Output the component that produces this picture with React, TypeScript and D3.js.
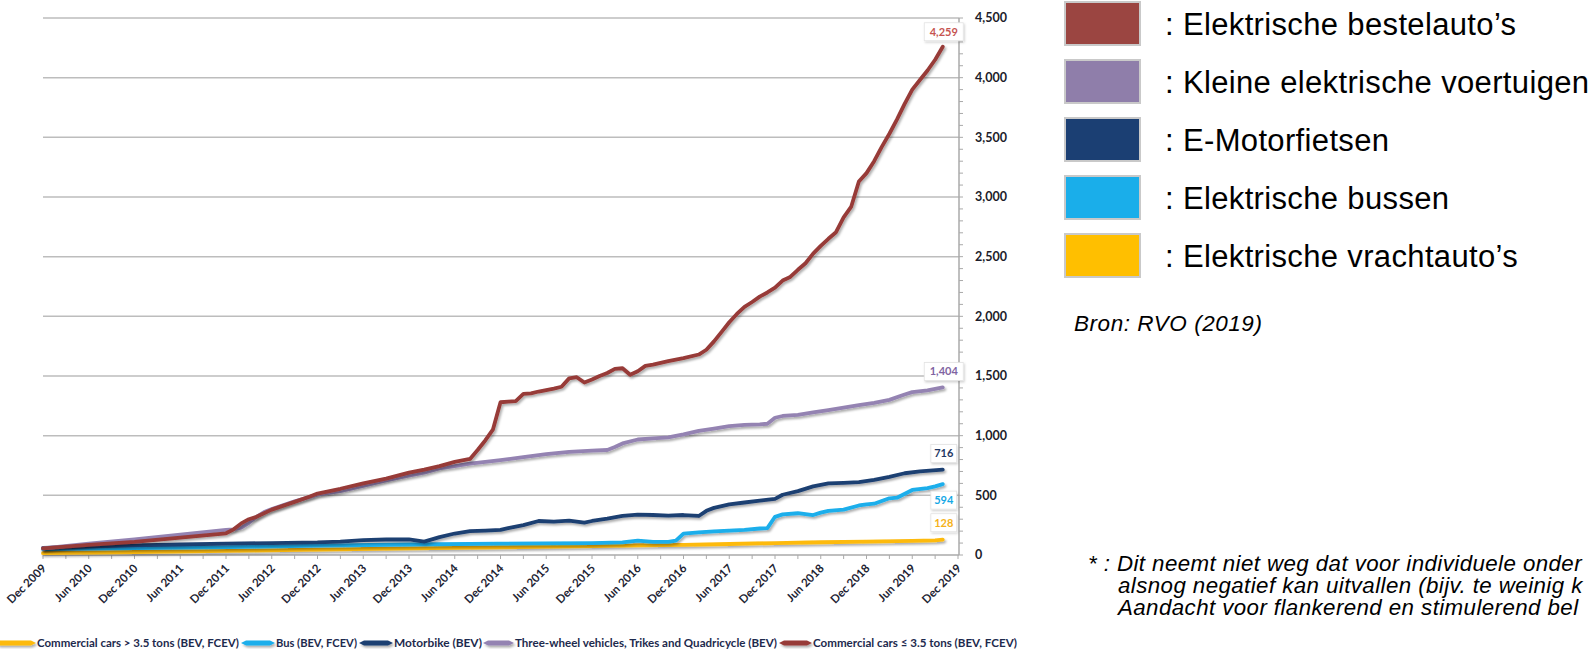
import React from 'react';
import * as d3 from 'd3';

// Monthly fleet counts, read as [YYYY-MM, vehicles]
const commercialHeavy: [string, number][] = [
  ['2009-12', 15], ['2010-12', 25], ['2011-12', 35], ['2012-12', 45], ['2013-12', 55],
  ['2014-12', 65], ['2015-12', 75], ['2016-06', 80], ['2016-12', 85], ['2017-06', 92],
  ['2017-12', 100], ['2018-06', 107], ['2018-12', 112], ['2019-06', 118], ['2019-09', 122],
  ['2019-10', 128],
];

const bus: [string, number][] = [
  ['2009-12', 50], ['2010-12', 58], ['2011-12', 66], ['2012-12', 78], ['2013-12', 88],
  ['2014-12', 95], ['2015-12', 100], ['2016-04', 105], ['2016-06', 120], ['2016-08', 110],
  ['2016-10', 110], ['2016-11', 120], ['2016-12', 180], ['2017-02', 190], ['2017-04', 198],
  ['2017-06', 205], ['2017-08', 210], ['2017-10', 222], ['2017-11', 225], ['2017-12', 320],
  ['2018-01', 340], ['2018-03', 350], ['2018-05', 335], ['2018-06', 355], ['2018-07', 370],
  ['2018-09', 380], ['2018-11', 415], ['2018-12', 425], ['2019-01', 430], ['2019-03', 475],
  ['2019-04', 480], ['2019-06', 545], ['2019-08', 560], ['2019-09', 575], ['2019-10', 594],
];

const motorbike: [string, number][] = [
  ['2009-12', 60], ['2010-06', 70], ['2010-12', 80], ['2011-06', 88], ['2011-12', 96],
  ['2012-06', 100], ['2012-12', 105], ['2013-03', 112], ['2013-06', 125], ['2013-09', 130],
  ['2013-12', 130], ['2014-02', 112], ['2014-04', 150], ['2014-06', 180], ['2014-08', 200],
  ['2014-10', 205], ['2014-12', 210], ['2015-01', 225], ['2015-03', 250], ['2015-05', 285],
  ['2015-07', 280], ['2015-09', 288], ['2015-11', 272], ['2015-12', 285], ['2016-02', 305],
  ['2016-04', 328], ['2016-06', 338], ['2016-08', 335], ['2016-10', 330], ['2016-12', 335],
  ['2017-02', 327], ['2017-03', 370], ['2017-04', 395], ['2017-06', 425], ['2017-08', 440],
  ['2017-10', 455], ['2017-12', 470], ['2018-01', 505], ['2018-03', 535], ['2018-05', 575],
  ['2018-07', 600], ['2018-09', 605], ['2018-11', 610], ['2019-01', 630], ['2019-03', 655],
  ['2019-05', 685], ['2019-07', 700], ['2019-10', 716],
];

const threeWheel: [string, number][] = [
  ['2009-12', 55], ['2010-06', 95], ['2010-12', 130], ['2011-06', 170], ['2011-12', 210],
  ['2012-01', 215], ['2012-02', 230], ['2012-03', 270], ['2012-04', 320], ['2012-05', 360],
  ['2012-06', 385], ['2012-09', 450], ['2012-12', 505], ['2013-03', 535], ['2013-06', 580],
  ['2013-09', 625], ['2013-12', 665], ['2014-02', 690], ['2014-04', 725], ['2014-06', 745],
  ['2014-08', 765], ['2014-10', 780], ['2014-12', 795], ['2015-03', 820], ['2015-06', 845],
  ['2015-09', 865], ['2015-12', 875], ['2016-02', 880], ['2016-03', 905], ['2016-04', 935],
  ['2016-06', 968], ['2016-08', 978], ['2016-10', 985], ['2016-12', 1010], ['2017-02', 1040],
  ['2017-04', 1060], ['2017-06', 1080], ['2017-08', 1090], ['2017-10', 1095], ['2017-11', 1100],
  ['2017-12', 1150], ['2018-01', 1165], ['2018-03', 1175], ['2018-05', 1195], ['2018-07', 1215],
  ['2018-09', 1235], ['2018-11', 1255], ['2019-01', 1275], ['2019-03', 1300], ['2019-05', 1345],
  ['2019-06', 1365], ['2019-08', 1380], ['2019-10', 1404],
];

const commercialLight: [string, number][] = [
  ['2009-12', 55], ['2010-06', 85], ['2010-12', 110], ['2011-06', 145], ['2011-12', 182],
  ['2012-01', 215], ['2012-02', 265], ['2012-03', 300], ['2012-04', 320], ['2012-06', 380],
  ['2012-09', 445], ['2012-11', 490], ['2012-12', 515], ['2013-03', 555], ['2013-06', 600],
  ['2013-09', 640], ['2013-12', 690], ['2014-02', 715], ['2014-04', 745], ['2014-06', 780],
  ['2014-08', 805], ['2014-09', 880], ['2014-10', 960], ['2014-11', 1050], ['2014-12', 1280],
  ['2015-01', 1285], ['2015-02', 1290], ['2015-03', 1350], ['2015-04', 1355], ['2015-05', 1370],
  ['2015-07', 1395], ['2015-08', 1410], ['2015-09', 1480], ['2015-10', 1490], ['2015-11', 1445],
  ['2015-12', 1470], ['2016-01', 1500], ['2016-02', 1525], ['2016-03', 1560], ['2016-04', 1565],
  ['2016-05', 1510], ['2016-06', 1540], ['2016-07', 1585], ['2016-08', 1595], ['2016-10', 1625],
  ['2016-12', 1650], ['2017-02', 1680], ['2017-03', 1720], ['2017-04', 1790], ['2017-05', 1870],
  ['2017-06', 1950], ['2017-07', 2020], ['2017-08', 2080], ['2017-09', 2120], ['2017-10', 2165],
  ['2017-11', 2200], ['2017-12', 2240], ['2018-01', 2300], ['2018-02', 2330], ['2018-03', 2390],
  ['2018-04', 2445], ['2018-05', 2525], ['2018-06', 2590], ['2018-07', 2650], ['2018-08', 2705],
  ['2018-09', 2830], ['2018-10', 2920], ['2018-11', 3130], ['2018-12', 3200], ['2019-01', 3300],
  ['2019-02', 3420], ['2019-03', 3530], ['2019-04', 3650], ['2019-05', 3780], ['2019-06', 3900],
  ['2019-07', 3980], ['2019-08', 4060], ['2019-09', 4150], ['2019-10', 4259],
];

const xTickLabels = [
  'Dec 2009', 'Jun 2010', 'Dec 2010', 'Jun 2011', 'Dec 2011', 'Jun 2012', 'Dec 2012',
  'Jun 2013', 'Dec 2013', 'Jun 2014', 'Dec 2014', 'Jun 2015', 'Dec 2015', 'Jun 2016',
  'Dec 2016', 'Jun 2017', 'Dec 2017', 'Jun 2018', 'Dec 2018', 'Jun 2019', 'Dec 2019',
];

const yTickValues = [0, 500, 1000, 1500, 2000, 2500, 3000, 3500, 4000, 4500];

const seriesNames = [
  'Commercial cars > 3.5 tons (BEV, FCEV)',
  'Bus (BEV, FCEV)',
  'Motorbike (BEV)',
  'Three-wheel vehicles, Trikes and Quadricycle (BEV)',
  'Commercial cars \u2264 3.5 tons (BEV, FCEV)',
];

const dutchLegend = [
  ': Elektrische bestelauto\u2019s',
  ': Kleine elektrische voertuigen',
  ': E-Motorfietsen',
  ': Elektrische bussen',
  ': Elektrische vrachtauto\u2019s',
];

// the slide cuts the footnote off at its right edge
const footnoteLines = [
  '* : Dit neemt niet weg dat voor individuele onder',
  'alsnog negatief kan uitvallen (bijv. te weinig k',
  'Aandacht voor flankerend en stimulerend bel',
];

const sourceText = 'Bron: RVO (2019)';

// months since Dec 2009
const monthIndex = (s: string) => {
  const [yy, mm] = s.split('-').map(Number);
  return (yy - 2009) * 12 + (mm - 12);
};

const series = [
  { data: commercialHeavy, color: '#FDBA0C', labelColor: '#F5B21A', labelDy: -17 },
  { data: bus, color: '#1AAEEB', labelColor: '#14A8E6', labelDy: 16 },
  { data: motorbike, color: '#1D3F72', labelColor: '#1F3864', labelDy: -16 },
  { data: threeWheel, color: '#9483B2', labelColor: '#8064A2', labelDy: -16 },
  { data: commercialLight, color: '#973A37', labelColor: '#C65450', labelDy: -15 },
];

// right-hand legend order: light commercial, small vehicles, motorbikes, buses, trucks
const dutchColors = ['#9B4541', '#8F7EAA', '#1B3F73', '#1AAEEA', '#FFBF00'];

export default function App() {
  const x = d3.scaleLinear().domain([0, 120]).range([43, 958]);
  const y = d3.scaleLinear().domain([0, 4500]).range([555, 18]);
  const axisX = 959;

  const line = d3
    .line<[string, number]>()
    .x((d) => x(monthIndex(d[0])))
    .y((d) => y(d[1]));

  const tickMonths = d3.range(0, 121, 3);
  const minorY = d3.range(0, 4501, 100);

  const legendLayout = [
    { sx0: -6, sx1: 36, tx: 37, tw: 202 },
    { sx0: 241, sx1: 275, tx: 276, tw: 81 },
    { sx0: 359, sx1: 393, tx: 394, tw: 88 },
    { sx0: 483, sx1: 514, tx: 515, tw: 262 },
    { sx0: 779, sx1: 812, tx: 813, tw: 204 },
  ];

  // tapered legend swatch
  const swatch = (x0: number, x1: number, cy: number) =>
    `M${x0},${cy} L${x0 + 5},${cy - 2.6} L${x1 - 5},${cy - 2.6} L${x1},${cy} L${x1 - 5},${cy + 2.6} L${x0 + 5},${cy + 2.6} Z`;

  return (
    <svg
      width={1593}
      height={649}
      style={{ position: 'absolute', left: 0, top: 0, background: '#fff', overflow: 'hidden' }}
    >
      <defs>
        <filter id="lineShadow" filterUnits="userSpaceOnUse" x="-20" y="0" width="1640" height="660">
          <feDropShadow dx="1.5" dy="2" stdDeviation="1.3" floodColor="#000" floodOpacity="0.32" />
        </filter>
        <filter id="boxShadow" x="-20%" y="-20%" width="150%" height="160%">
          <feDropShadow dx="1" dy="1.5" stdDeviation="1.2" floodColor="#000" floodOpacity="0.18" />
        </filter>
      </defs>

      {/* gridlines */}
      {yTickValues.filter((v) => v > 0).map((v) => (
        <line key={v} x1={x(0)} x2={axisX} y1={y(v)} y2={y(v)} stroke="#bdbdbd" strokeWidth={1.5} />
      ))}

      {/* x axis */}
      <line x1={x(0)} x2={axisX} y1={y(0)} y2={y(0)} stroke="#aaaaaa" strokeWidth={1.5} />
      {tickMonths.map((m) => (
        <line key={m} x1={x(m)} x2={x(m)} y1={y(0)} y2={y(0) + 4} stroke="#aaaaaa" strokeWidth={1} />
      ))}
      {xTickLabels.map((lab, i) => {
        const px = x(i * 6) + 4;
        const py = 569;
        return (
          <text
            key={lab}
            x={px}
            y={py}
            transform={`rotate(-45 ${px} ${py})`}
            textAnchor="end"
            fontFamily="Lato, 'Open Sans', sans-serif"
            fontWeight={700}
            fontSize={11.5}
            fill="#1d2333"
          >
            {lab}
          </text>
        );
      })}

      {/* right y axis */}
      <line x1={axisX} x2={axisX} y1={y(4500)} y2={y(0)} stroke="#aaaaaa" strokeWidth={1.5} />
      {minorY.map((v) => (
        <line key={v} x1={axisX} x2={axisX + 4} y1={y(v)} y2={y(v)} stroke="#aaaaaa" strokeWidth={1} />
      ))}
      {yTickValues.map((v) => (
        <text
          key={v}
          x={975}
          y={y(v)}
          dy="0.35em"
          fontFamily="Lato, 'Open Sans', sans-serif"
          fontWeight={700}
          fontSize={12.5}
          fill="#1c1c2a"
        >
          {d3.format(',')(v)}
        </text>
      ))}

      {/* series lines */}
      {series.map((s, i) => (
        <path
          key={i}
          d={line(s.data) || ''}
          fill="none"
          stroke={s.color}
          strokeWidth={3.8}
          strokeLinejoin="round"
          strokeLinecap="round"
          filter="url(#lineShadow)"
        />
      ))}

      {/* end-value labels */}
      {series.map((s, i) => {
        const last = s.data[s.data.length - 1];
        const cx = x(monthIndex(last[0])) + 1;
        const cy = y(last[1]) + s.labelDy;
        const txt = d3.format(',')(last[1]);
        const w = txt.length * 6.6 + 6;
        return (
          <g key={i}>
            <rect
              x={cx - w / 2}
              y={cy - 9}
              width={w}
              height={18}
              fill="#fff"
              stroke="#e3e3e3"
              strokeWidth={0.8}
              filter="url(#boxShadow)"
            />
            <text
              x={cx}
              y={cy}
              dy="0.35em"
              textAnchor="middle"
              fontFamily="Lato, 'Open Sans', sans-serif"
              fontWeight={700}
              fontSize={11}
              fill={s.labelColor}
            >
              {txt}
            </text>
          </g>
        );
      })}

      {/* bottom legend */}
      {series.map((s, i) => {
        const L = legendLayout[i];
        return (
          <g key={i}>
            <path d={swatch(L.sx0, L.sx1, 643)} fill={s.color} filter="url(#lineShadow)" />
            <text
              x={L.tx}
              y={647}
              textLength={L.tw}
              lengthAdjust="spacingAndGlyphs"
              fontFamily="Lato, 'Open Sans', sans-serif"
              fontWeight={700}
              fontSize={12}
              fill="#1d2a4d"
            >
              {seriesNames[i]}
            </text>
          </g>
        );
      })}

      {/* right-hand legend */}
      {dutchLegend.map((lab, i) => {
        const top = 2 + i * 58;
        return (
          <g key={lab}>
            <rect x={1065} y={top} width={75} height={43} fill={dutchColors[i]} stroke="#c9c9c9" strokeWidth={2} />
            <text
              x={1165}
              y={top + 33}
              fontFamily="'Liberation Sans', Arial, sans-serif"
              fontSize={31}
              letterSpacing={0.35}
              fill="#000"
            >
              {lab}
            </text>
          </g>
        );
      })}

      <text
        x={1074}
        y={331}
        fontFamily="'Liberation Sans', Arial, sans-serif"
        fontStyle="italic"
        fontSize={22.5}
        letterSpacing={0.55}
        fill="#000"
      >
        {sourceText}
      </text>

      {footnoteLines.map((t, i) => (
        <text
          key={i}
          x={i === 0 ? 1088 : 1118}
          y={571 + i * 22}
          fontFamily="'Liberation Sans', Arial, sans-serif"
          fontStyle="italic"
          fontSize={22.3}
          letterSpacing={0.42}
          fill="#000"
        >
          {t}
        </text>
      ))}
    </svg>
  );
}
